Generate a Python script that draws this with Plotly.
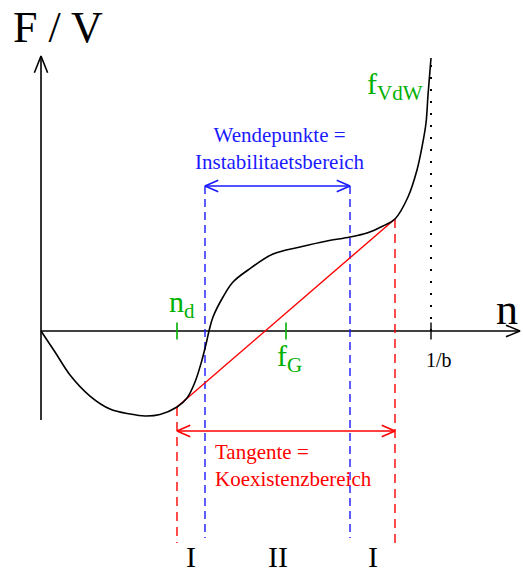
import numpy as np
import plotly.graph_objects as go

# Van-der-Waals free energy density f_VdW(n), with n in units of 1/b
n_curve = [0.0, 0.0359, 0.0744, 0.1256, 0.1769, 0.2282, 0.2667, 0.3051, 0.3487,
           0.3744, 0.3949, 0.4128, 0.4256, 0.4308, 0.4410, 0.4667, 0.4923, 0.5308,
           0.5949, 0.6641, 0.7333, 0.7923, 0.8359, 0.8769, 0.9077, 0.9410, 0.9641,
           0.9769, 0.9872, 0.9923, 1.0]
f_curve = [0.0, -0.0538, -0.1128, -0.1667, -0.2000, -0.2128, -0.2179, -0.2141, -0.1949,
           -0.1718, -0.1308, -0.0744, -0.0231, 0.0, 0.0359, 0.0872, 0.1256, 0.1564,
           0.1974, 0.2154, 0.2308, 0.2410, 0.2513, 0.2692, 0.2872, 0.3436, 0.4128,
           0.4718, 0.5333, 0.6051, 0.7000]

# common tangent (coexistence) points and inflection points (spinodal)
n_tangent = [0.3487, 0.9077]
f_tangent = [-0.1949, 0.2872]
n_inflect = [0.4205, 0.7923]
n_d = 0.3487
n_fG = 0.6282
n_max = 1.0  # 1/b

# axis extents
n_axis_end = 1.2282
f_axis_lo, f_axis_hi = -0.2282, 0.70

# vertical extents of the guide lines and arrow levels
f_red_bottom = -0.5436
f_blue_top, f_blue_bottom = 0.3718, -0.5308
f_red_arrow = -0.2564
tick_half = 0.022

GREEN = "#00b000"
BLUE = "#1a1aff"
RED = "#ff0000"
FONT = "Liberation Serif, Times New Roman, serif"

fig = go.Figure()


def line(x, y, color="black", width=1.6, dash="solid", shape="linear"):
    fig.add_trace(go.Scatter(x=x, y=y, mode="lines", hoverinfo="skip",
                             line=dict(color=color, width=width, dash=dash, shape=shape),
                             showlegend=False))


def open_head(tip, direction, color, length=0.034, half=0.0145, width=1.6):
    """Open V arrowhead at tip pointing along direction."""
    tx, ty = tip
    dx, dy = direction
    norm = np.hypot(dx, dy)
    dx, dy = dx / norm, dy / norm
    px, py = -dy, dx
    bx, by = tx - dx * length, ty - dy * length
    line([bx + px * half, tx, bx - px * half], [by + py * half, ty, by - py * half],
         color=color, width=width)


# axes
line([0, 0], [f_axis_lo, f_axis_hi + 0.005])
open_head((0, f_axis_hi + 0.005), (0, 1), "black", length=0.043, half=0.017)
line([0, n_axis_end], [0, 0])
open_head((n_axis_end, 0), (1, 0), "black", length=0.036, half=0.015)

# 1/b asymptote (dotted) and its tick
line([n_max, n_max], [0, f_axis_hi], width=2, dash="2px,10px")
line([n_max, n_max], [-tick_half, tick_half], width=1.4)

# tangent and spinodal guide lines
for n0, f0 in zip(n_tangent, f_tangent):
    line([n0, n0], [f0, f_red_bottom], color=RED, width=1.4, dash="9px,6px")
for n0 in n_inflect:
    line([n0, n0], [f_blue_top, f_blue_bottom], color=BLUE, width=1.4, dash="8px,5px")

# double arrows
line(n_inflect, [f_blue_top, f_blue_top], color=BLUE, width=1.6)
open_head((n_inflect[0], f_blue_top), (-1, 0), BLUE)
open_head((n_inflect[1], f_blue_top), (1, 0), BLUE)
line(n_tangent, [f_red_arrow, f_red_arrow], color=RED, width=1.6)
open_head((n_tangent[0], f_red_arrow), (-1, 0), RED)
open_head((n_tangent[1], f_red_arrow), (1, 0), RED)

# common tangent
line(n_tangent, f_tangent, color=RED, width=1.4)

# free energy curve
line(n_curve, f_curve, width=1.6, shape="spline")

# green ticks
for n0 in (n_d, n_fG):
    line([n0, n0], [-tick_half, tick_half], color=GREEN, width=1.6)


def label(text, x, y, size, color="black", xanchor="center", align="center"):
    fig.add_annotation(x=x, y=y, text=text, showarrow=False, xanchor=xanchor,
                       yanchor="middle", align=align,
                       font=dict(family=FONT, size=size, color=color))


label("F / V", 0.0436, 0.777, 44)
label("n", 1.195, 0.056, 44)
label("1/b", 1.0205, -0.074, 20)
label("n<sub>d</sub>", n_d + 0.013, 0.069, 30, GREEN)
label("f<sub>VdW</sub>", 0.907, 0.628, 30, GREEN)
label("f<sub>G</sub>", n_fG + 0.01, -0.069, 30, GREEN)
label("Wendepunkte =<br>Instabilitaetsbereich", sum(n_inflect) / 2 + 0.006, 0.468, 21, BLUE)
label("Tangente =<br>Koexistenzbereich", n_inflect[0] + 0.02, -0.345, 21, RED,
      xanchor="left", align="left")

# region labels I / II / I
bounds = [n_tangent[0], n_inflect[0], n_inflect[1], n_tangent[1]]
for name, a, b in zip(["I", "II", "I"], bounds[:-1], bounds[1:]):
    label(name, (a + b) / 2, -0.578, 30)

fig.update_xaxes(range=[-41 / 390, 482 / 390], visible=False)
fig.update_yaxes(range=[-238 / 390, 331 / 390], visible=False)
fig.update_layout(width=523, height=569, margin=dict(l=0, r=0, t=0, b=0),
                  plot_bgcolor="white", paper_bgcolor="white")

fig.write_html("out.html")
